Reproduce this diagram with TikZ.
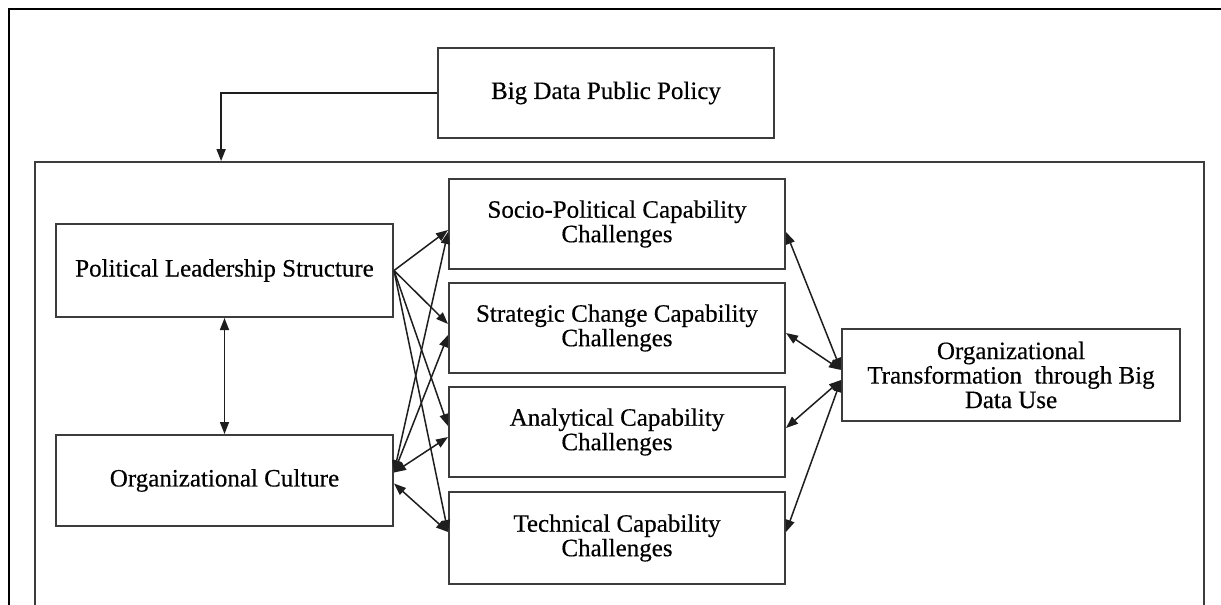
\documentclass[tikz,border=0pt]{standalone}
\usepackage{fontspec}
\setmainfont{Liberation Serif}[FakeBold=0.4]
\usetikzlibrary{arrows.meta}

\definecolor{boxline}{HTML}{3C3C3C}
\definecolor{arrline}{HTML}{1E1E1E}

\tikzset{
  card/.style={draw=boxline, line width=2pt, fill=white, inner sep=0pt,
    align=center, font=\fontsize{25}{24.5}\selectfont},
  panelbox/.style={draw=boxline, line width=1.8pt, inner sep=0pt},
  link/.style={draw=arrline, line width=1.5pt, -{Triangle[length=12pt,width=9pt]}},
  biglink/.style={draw=arrline, line width=1.5pt,
    {Triangle[length=12pt,width=9pt]}-{Triangle[length=12pt,width=9pt]}},
}

\begin{document}
\begin{tikzpicture}[x=1pt, y=-1pt]
  \useasboundingbox (0,0) rectangle (1221,605);
  \fill[white] (0,0) rectangle (1221,605);
  \clip (0,0) rectangle (1221,605);

  % page frame, open to the right and below
  \draw[black, line width=2.2pt] (9,615) -- (9,9) -- (1230,9);

  % framing panel around the capability model
  \node[panelbox, minimum width=1169pt, minimum height=458pt] (panel) at (619.5,391) {};

  % boxes
  \node[card, minimum width=336pt, minimum height=90pt] (policy) at (606,93) {Big Data Public Policy};
  \node[card, minimum width=337pt, minimum height=93pt] (lead) at (224.5,270.5) {Political Leadership Structure};
  \node[card, minimum width=337pt, minimum height=91pt] (culture) at (224.5,480.5) {Organizational Culture};
  \node[card, minimum width=336pt, minimum height=90pt] (socio) at (617,224) {Socio-Political Capability\\Challenges};
  \node[card, minimum width=336pt, minimum height=90pt] (strat) at (617,328) {Strategic Change Capability\\Challenges};
  \node[card, minimum width=336pt, minimum height=90pt] (anal) at (617,432) {Analytical Capability\\Challenges};
  \node[card, minimum width=336pt, minimum height=92pt] (tech) at (617,538) {Technical Capability\\Challenges};
  \node[card, minimum width=338pt, minimum height=92pt] (trans) at (1011,375) {Organizational\\Transformation~ through Big\\Data Use};

  % policy feeds the whole panel
  \draw[link] (policy.west) -| ([xshift=187pt]panel.north west);

  % leadership <-> culture
  \draw[biglink] (lead.south) -- (culture.north);

  % leadership drives each capability challenge
  \draw[link] (lead.east) -- ([yshift=-6pt]socio.west);
  \draw[link] (lead.east) -- ([yshift=4pt]strat.west);
  \draw[link] (lead.east) -- ([yshift=6pt]anal.west);
  \draw[link] (lead.east) -- ([yshift=6pt]tech.west);

  % culture <-> capability challenges
  \draw[biglink] ([yshift=8pt]culture.east) -- ([yshift=-8pt]socio.west);
  \draw[biglink] ([yshift=8pt]culture.east) -- ([yshift=-7pt]strat.west);
  \draw[biglink] ([yshift=8pt]culture.east) -- ([yshift=-5pt]anal.west);
  \draw[biglink] ([yshift=-3pt]culture.east) -- ([yshift=6pt]tech.west);

  % capability challenges <-> transformation
  \draw[biglink] ([yshift=-8pt]socio.east) -- ([yshift=5pt]trans.west);
  \draw[biglink] ([yshift=-5pt]strat.east) -- ([yshift=5pt]trans.west);
  \draw[biglink] ([yshift=4pt]anal.east) -- ([yshift=-5pt]trans.west);
  \draw[biglink] ([yshift=6pt]tech.east) -- ([yshift=-5pt]trans.west);
\end{tikzpicture}
\end{document}
